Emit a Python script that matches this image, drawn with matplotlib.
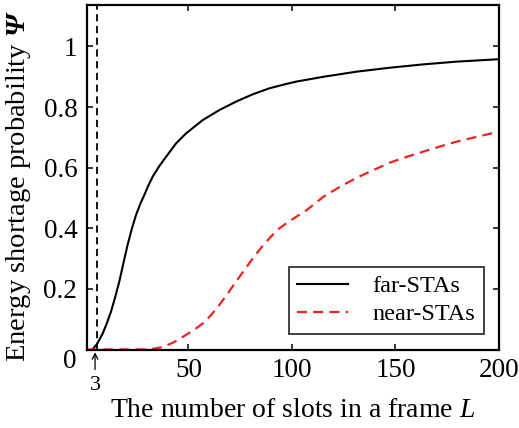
import numpy as np
import matplotlib
matplotlib.use("Agg")
from matplotlib import pyplot as plt

plt.rcParams['font.family'] = ['Liberation Serif', 'DejaVu Serif']
plt.rcParams['mathtext.fontset'] = 'custom'
plt.rcParams['mathtext.rm'] = 'Liberation Serif'
plt.rcParams['mathtext.it'] = 'Liberation Serif:italic'
plt.rcParams['mathtext.bf'] = 'Liberation Serif:bold:italic'

# far-STAs curve
L_far = [3.7, 6, 8.6, 10.5, 12.6, 14.5, 16.6, 18.6, 20.6, 22.6, 24.7, 26.7, 28.7, 30.7, 32.7,
         36, 39.2, 44, 48.8, 56.9, 64.9, 73, 81, 89.1, 97.1, 102, 115.2, 131.3, 147.4, 163.5,
         179.6, 200]
psi_far = [0.0, 0.02, 0.053, 0.085, 0.125, 0.17, 0.224, 0.285, 0.345, 0.397, 0.444, 0.48, 0.51,
           0.542, 0.57, 0.606, 0.636, 0.68, 0.713, 0.757, 0.79, 0.818, 0.842, 0.862, 0.876,
           0.884, 0.90, 0.917, 0.93, 0.941, 0.95, 0.958]

# near-STAs curve
L_near = [1, 20, 28, 32.7, 37.5, 43, 48.8, 53, 56.9, 61, 64.9, 69, 73, 77, 81, 85, 89.1, 93,
          98, 107.1, 115.2, 123.2, 131.3, 139.3, 147.4, 155.5, 163.5, 171.5, 179.6, 190, 200]
psi_near = [0.0, 0.0, 0.0, 0.002, 0.008, 0.024, 0.048, 0.066, 0.086, 0.114, 0.147, 0.185,
            0.224, 0.262, 0.30, 0.335, 0.367, 0.395, 0.42, 0.46, 0.504, 0.537, 0.567, 0.592,
            0.617, 0.636, 0.653, 0.67, 0.686, 0.703, 0.719]

L_min = 3
arrow_x = 4.9
vline_x = 5.8

W, H = 519, 428
fig = plt.figure(figsize=(W / 100, H / 100), dpi=100)
ax = fig.add_axes([0.1676, 0.1834, 0.7938, 0.805])

ax.plot(L_far, psi_far, color='black', lw=1.5, label='far-STAs')
ax.plot(L_near, psi_near, color='#ee2222', lw=1.6, ls=(0, (4.5, 2.8)), label='near-STAs')
ax.axvline(vline_x, color='black', lw=1.3, ls=(0, (4, 2.5)))

ax.set_xlim(1, 200)
ax.set_ylim(0, 1.137)
ax.set_xticks([50, 100, 150, 200])
ax.set_yticks([0.2, 0.4, 0.6, 0.8, 1.0])
ax.set_yticklabels(['0.2', '0.4', '0.6', '0.8', '1'])
ax.tick_params(direction='in', labelsize=19.5, width=1.1, length=4, top=True, right=True)
ax.tick_params(axis='y', pad=7)
ax.tick_params(axis='x', pad=6)
for s in ax.spines.values():
    s.set_linewidth(1.6)

# lone "0" in the corner
fig.text(70 / W, 1 - 362 / H, '0', fontsize=19.5, ha='center', va='center')

ax.annotate('', xy=(arrow_x, 0), xytext=(arrow_x, -0.075),
            arrowprops=dict(arrowstyle='->', color='black', lw=0.9, mutation_scale=10),
            annotation_clip=False)
ax.text(arrow_x, -0.118, str(L_min), fontsize=16, ha='center', va='center')

ax.set_xlabel('The number of slots in a frame $L$', fontsize=20, labelpad=11)
fig.text(19 / W, 1 - 186 / H, r'Energy shortage probability $\mathbf{\Psi}$', fontsize=20.5,
         rotation=90, ha='center', va='center')

leg = ax.legend(loc='lower right', bbox_to_anchor=(0.9636, 0.045), borderaxespad=0,
                fontsize=17.5, frameon=True, fancybox=False, edgecolor='black',
                handlelength=2.1, handletextpad=1.0, labelspacing=0.25, borderpad=0.35)
leg.get_frame().set_linewidth(1.3)

fig.savefig('out.png', dpi=100)
